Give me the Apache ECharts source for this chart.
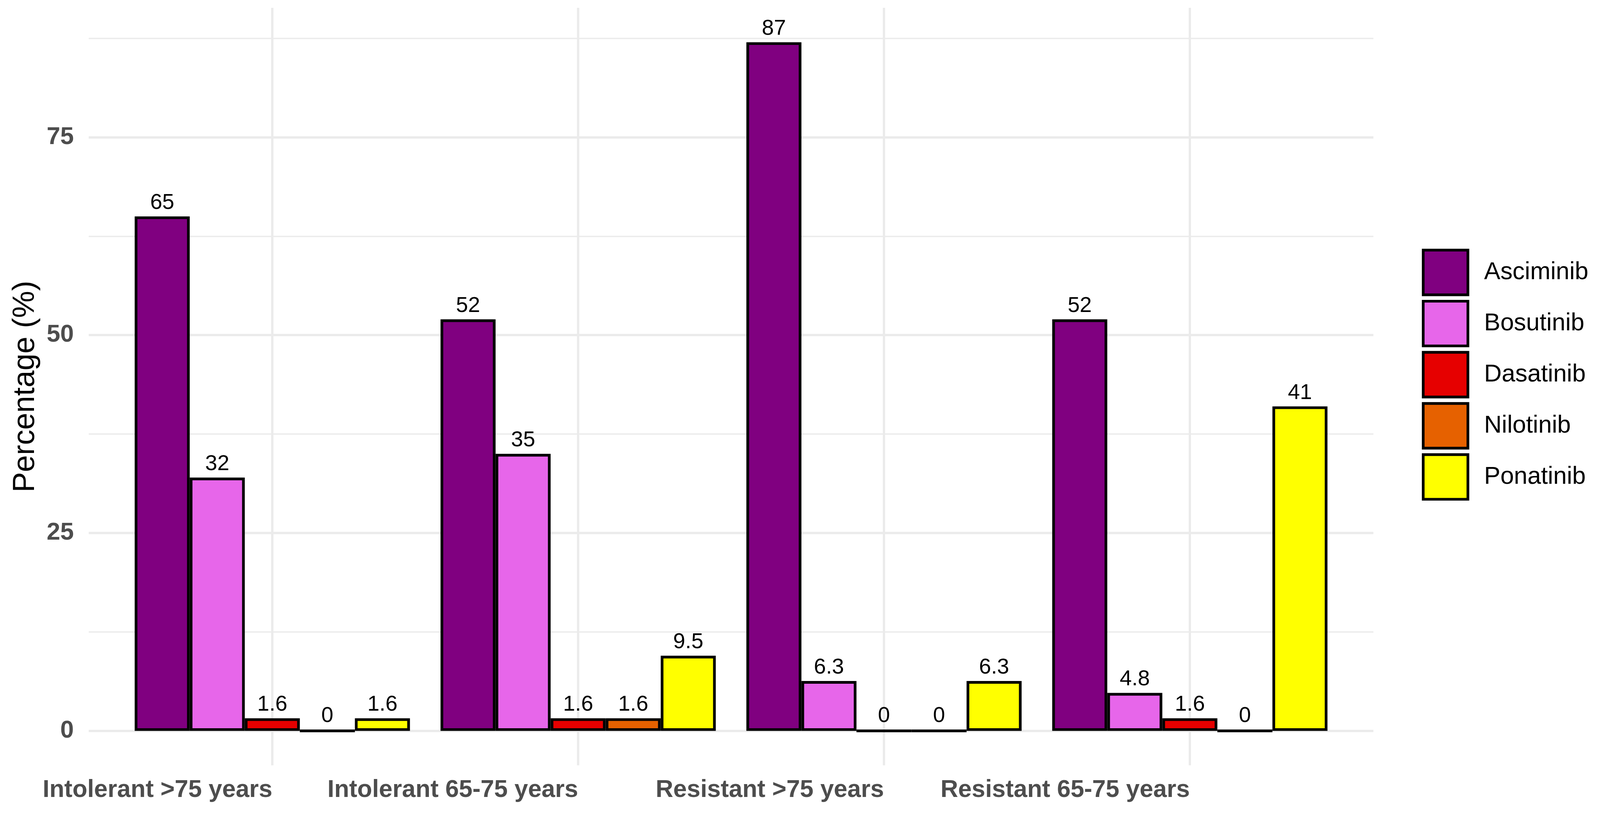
<!DOCTYPE html>
<html>
<head>
<meta charset="utf-8">
<script src="https://cdn.jsdelivr.net/npm/echarts@6/dist/echarts.min.js"></script>
<style>html,body{margin:0;padding:0;background:#fff;overflow:hidden;width:100%;height:100%}#c{width:100vw;height:100vh}</style>
</head>
<body>
<div id="c"></div>
<script>
const categories = ['Intolerant >75 years', 'Intolerant 65-75 years', 'Resistant >75 years', 'Resistant 65-75 years'];
const drugs = ['Asciminib', 'Bosutinib', 'Dasatinib', 'Nilotinib', 'Ponatinib'];
const asciminib = [65, 52, 87, 52];
const bosutinib = [32, 35, 6.3, 4.8];
const dasatinib = [1.6, 1.6, 0, 1.6];
const nilotinib = [0, 1.6, 0, 0];
const ponatinib = [1.6, 9.5, 6.3, 41];
const majorTicks = [0, 25, 50, 75];
const minorTicks = [12.5, 37.5, 62.5, 87.5];
const yMin = -4.35, yMax = 91.35;
const colors = ['#800080', '#E766EA', '#E60000', '#E66100', '#FFFF00'];
const values = [asciminib, bosutinib, dasatinib, nilotinib, ponatinib];

const FONT = '"Liberation Sans", Arial, sans-serif';
const el = document.getElementById('c');
const W = el.clientWidth || window.innerWidth;
const H = el.clientHeight || window.innerHeight;
const sx = W / 4724, sy = H / 2100, s = Math.min(sx, sy);
const chart = echarts.init(el, null, {renderer: 'canvas', width: W, height: H});

const series = drugs.map((name, i) => ({
  name: name,
  type: 'bar',
  xAxisIndex: 0,
  yAxisIndex: 0,
  barGap: '0%',
  barCategoryGap: '10%',
  data: values[i],
  itemStyle: {color: colors[i], borderColor: '#000', borderWidth: 8 * s},
  label: {show: true, position: 'top', distance: 8 * s, color: '#000', fontSize: 64 * s, fontFamily: FONT},
  z: 3
}));

chart.setOption({
  animation: false,
  backgroundColor: '#fff',
  grid: [
    {left: 352.5 * sx, width: 3612 * sx, top: 20 * sy, bottom: 140 * sy, containLabel: false},
    {left: 262 * sx, width: 3793 * sx, top: 20 * sy, bottom: 140 * sy, containLabel: false}
  ],
  legend: {
    data: drugs,
    orient: 'vertical',
    left: 4198 * sx,
    top: 637 * sy,
    padding: 0,
    itemWidth: 132 * s,
    itemHeight: 132 * s,
    itemGap: 11 * s,
    icon: 'rect',
    itemStyle: {borderColor: '#000', borderWidth: 8 * s},
    textStyle: {fontSize: 72 * s, color: '#000', fontFamily: FONT, padding: [0, 0, 0, 42 * s]}
  },
  xAxis: [
    {
      type: 'category', gridIndex: 0, data: categories,
      axisLine: {show: false, onZero: false},
      axisTick: {show: true, alignWithLabel: true, inside: true, length: 1940 * sy,
        lineStyle: {color: '#ebebeb', width: 7 * s}},
      splitLine: {show: false},
      axisLabel: {align: 'right', margin: 33 * sy, fontSize: 72 * s, fontWeight: 'bold', color: '#4d4d4d', fontFamily: FONT, interval: 0}
    },
    {type: 'value', gridIndex: 1, min: 0, max: 1, show: false}
  ],
  yAxis: [
    {type: 'value', gridIndex: 0, min: yMin, max: yMax, show: false},
    {
      type: 'value', gridIndex: 1, min: yMin, max: yMax,
      name: 'Percentage (%)', nameLocation: 'middle', nameRotate: 90, nameGap: 142 * sx,
      nameTextStyle: {fontSize: 90 * s, color: '#000', fontFamily: FONT},
      axisLine: {show: false},
      axisTick: {show: false, customValues: majorTicks},
      axisLabel: {customValues: majorTicks, margin: 44 * sx, fontSize: 72 * s, fontWeight: 'bold', color: '#4d4d4d', fontFamily: FONT},
      splitLine: {show: true, lineStyle: {color: '#ebebeb', width: 7 * s}}
    },
    {
      type: 'value', gridIndex: 1, min: yMin, max: yMax, position: 'left',
      axisLine: {show: false},
      axisTick: {show: false, customValues: minorTicks},
      axisLabel: {show: false, customValues: minorTicks},
      splitLine: {show: true, lineStyle: {color: '#ebebeb', width: 4 * s}}
    }
  ],
  series: series
});
</script>
</body>
</html>
